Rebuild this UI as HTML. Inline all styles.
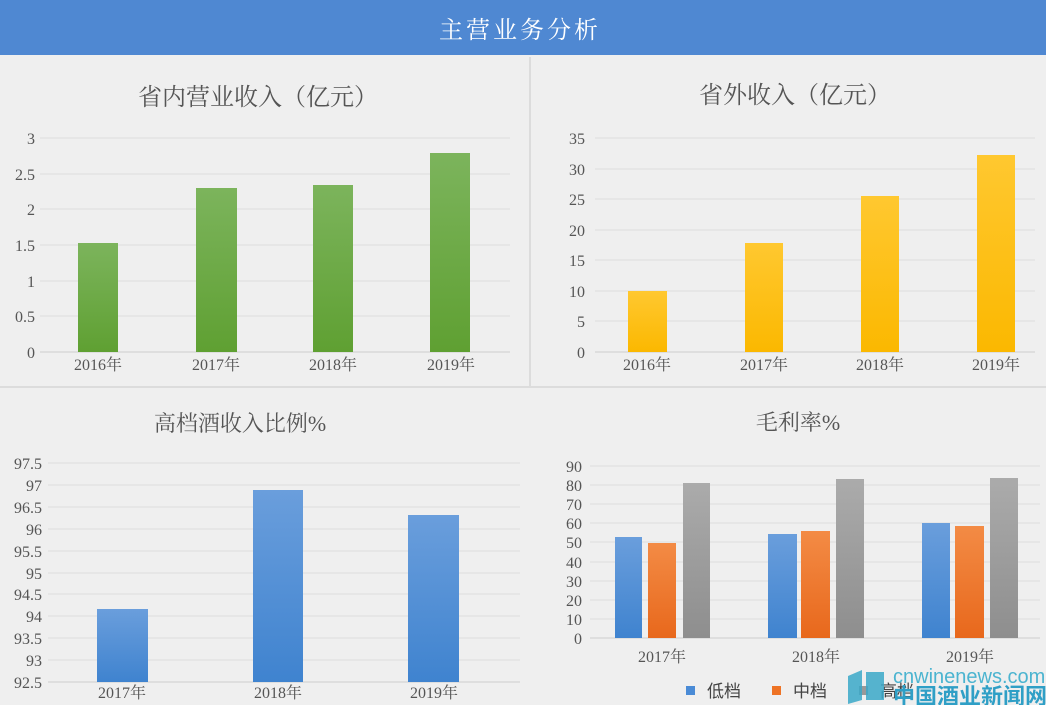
<!DOCTYPE html>
<html><head><meta charset="utf-8"><style>
body{margin:0;width:1046px;height:705px;overflow:hidden;background:#efefef;}
svg{display:block}
text{font-family:"Liberation Serif","Noto Serif CJK SC",serif;fill:#555;}
</style></head><body>
<svg width="1046" height="705" viewBox="0 0 1046 705">
<defs>
<linearGradient id="g" x1="0" y1="0" x2="0" y2="1"><stop offset="0" stop-color="#7cb45c"/><stop offset="1" stop-color="#5fa032"/></linearGradient>
<linearGradient id="y" x1="0" y1="0" x2="0" y2="1"><stop offset="0" stop-color="#ffc830"/><stop offset="1" stop-color="#fbb800"/></linearGradient>
<linearGradient id="b" x1="0" y1="0" x2="0" y2="1"><stop offset="0" stop-color="#6a9edc"/><stop offset="1" stop-color="#3f83cf"/></linearGradient>
<linearGradient id="o" x1="0" y1="0" x2="0" y2="1"><stop offset="0" stop-color="#f38b45"/><stop offset="1" stop-color="#e8681c"/></linearGradient>
<linearGradient id="s" x1="0" y1="0" x2="0" y2="1"><stop offset="0" stop-color="#ababab"/><stop offset="1" stop-color="#8e8e8e"/></linearGradient>
</defs>
<rect x="0" y="0" width="1046" height="55" fill="#4f88d2"/>
<text x="520" y="38" text-anchor="middle" font-size="24" style="fill:#fff" letter-spacing="3">主营业务分析</text>
<line x1="530" y1="57" x2="530" y2="386" stroke="#dcdcdc" stroke-width="2"/>
<line x1="0" y1="387" x2="1046" y2="387" stroke="#dcdcdc" stroke-width="2"/>

<!-- chart1 -->
<text x="258" y="105" text-anchor="middle" font-size="24">省内营业收入（亿元）</text>
<g stroke="#dcdcdc" stroke-width="1">
<line x1="40" y1="138" x2="510" y2="138"/><line x1="40" y1="174" x2="510" y2="174"/><line x1="40" y1="209" x2="510" y2="209"/><line x1="40" y1="245" x2="510" y2="245"/><line x1="40" y1="281" x2="510" y2="281"/><line x1="40" y1="316" x2="510" y2="316"/><line x1="40" y1="352" x2="510" y2="352" stroke="#ccc"/>
</g>
<g font-size="16" text-anchor="end">
<text x="35" y="144">3</text><text x="35" y="180">2.5</text><text x="35" y="215">2</text><text x="35" y="251">1.5</text><text x="35" y="287">1</text><text x="35" y="322">0.5</text><text x="35" y="358">0</text>
</g>
<rect x="78" y="243" width="40" height="109" fill="url(#g)"/>
<rect x="196" y="188" width="41" height="164" fill="url(#g)"/>
<rect x="313" y="185" width="40" height="167" fill="url(#g)"/>
<rect x="430" y="153" width="40" height="199" fill="url(#g)"/>
<g font-size="16" text-anchor="middle"><text x="98" y="370">2016年</text><text x="216" y="370">2017年</text><text x="333" y="370">2018年</text><text x="451" y="370">2019年</text></g>

<!-- chart2 -->
<text x="795" y="103" text-anchor="middle" font-size="24">省外收入（亿元）</text>
<g stroke="#dcdcdc" stroke-width="1">
<line x1="595" y1="138" x2="1035" y2="138"/><line x1="595" y1="169" x2="1035" y2="169"/><line x1="595" y1="199" x2="1035" y2="199"/><line x1="595" y1="230" x2="1035" y2="230"/><line x1="595" y1="260" x2="1035" y2="260"/><line x1="595" y1="291" x2="1035" y2="291"/><line x1="595" y1="321" x2="1035" y2="321"/><line x1="595" y1="352" x2="1035" y2="352" stroke="#ccc"/>
</g>
<g font-size="16" text-anchor="end">
<text x="585" y="144">35</text><text x="585" y="175">30</text><text x="585" y="205">25</text><text x="585" y="236">20</text><text x="585" y="266">15</text><text x="585" y="297">10</text><text x="585" y="327">5</text><text x="585" y="358">0</text>
</g>
<rect x="628" y="291" width="39" height="61" fill="url(#y)"/>
<rect x="745" y="243" width="38" height="109" fill="url(#y)"/>
<rect x="861" y="196" width="38" height="156" fill="url(#y)"/>
<rect x="977" y="155" width="38" height="197" fill="url(#y)"/>
<g font-size="16" text-anchor="middle"><text x="647" y="370">2016年</text><text x="764" y="370">2017年</text><text x="880" y="370">2018年</text><text x="996" y="370">2019年</text></g>

<!-- chart3 -->
<text x="240" y="431" text-anchor="middle" font-size="22">高档酒收入比例%</text>
<g stroke="#dcdcdc" stroke-width="1">
<line x1="48" y1="463" x2="520" y2="463"/><line x1="48" y1="485" x2="520" y2="485"/><line x1="48" y1="507" x2="520" y2="507"/><line x1="48" y1="529" x2="520" y2="529"/><line x1="48" y1="551" x2="520" y2="551"/><line x1="48" y1="573" x2="520" y2="573"/><line x1="48" y1="594" x2="520" y2="594"/><line x1="48" y1="616" x2="520" y2="616"/><line x1="48" y1="638" x2="520" y2="638"/><line x1="48" y1="660" x2="520" y2="660"/><line x1="48" y1="682" x2="520" y2="682" stroke="#ccc"/>
</g>
<g font-size="16" text-anchor="end">
<text x="42" y="469">97.5</text><text x="42" y="491">97</text><text x="42" y="513">96.5</text><text x="42" y="535">96</text><text x="42" y="557">95.5</text><text x="42" y="579">95</text><text x="42" y="600">94.5</text><text x="42" y="622">94</text><text x="42" y="644">93.5</text><text x="42" y="666">93</text><text x="42" y="688">92.5</text>
</g>
<rect x="97" y="609" width="51" height="73" fill="url(#b)"/>
<rect x="253" y="490" width="50" height="192" fill="url(#b)"/>
<rect x="408" y="515" width="51" height="167" fill="url(#b)"/>
<g font-size="16" text-anchor="middle"><text x="122" y="698">2017年</text><text x="278" y="698">2018年</text><text x="434" y="698">2019年</text></g>

<!-- chart4 -->
<text x="798" y="430" text-anchor="middle" font-size="22">毛利率%</text>
<g stroke="#dcdcdc" stroke-width="1">
<line x1="590" y1="466" x2="1040" y2="466"/><line x1="590" y1="485" x2="1040" y2="485"/><line x1="590" y1="504" x2="1040" y2="504"/><line x1="590" y1="523" x2="1040" y2="523"/><line x1="590" y1="542" x2="1040" y2="542"/><line x1="590" y1="562" x2="1040" y2="562"/><line x1="590" y1="581" x2="1040" y2="581"/><line x1="590" y1="600" x2="1040" y2="600"/><line x1="590" y1="619" x2="1040" y2="619"/><line x1="590" y1="638" x2="1040" y2="638" stroke="#ccc"/>
</g>
<g font-size="16" text-anchor="end">
<text x="582" y="472">90</text><text x="582" y="491">80</text><text x="582" y="510">70</text><text x="582" y="529">60</text><text x="582" y="548">50</text><text x="582" y="568">40</text><text x="582" y="587">30</text><text x="582" y="606">20</text><text x="582" y="625">10</text><text x="582" y="644">0</text>
</g>
<rect x="615" y="537" width="27" height="101" fill="url(#b)"/>
<rect x="648" y="543" width="28" height="95" fill="url(#o)"/>
<rect x="683" y="483" width="27" height="155" fill="url(#s)"/>
<rect x="768" y="534" width="29" height="104" fill="url(#b)"/>
<rect x="801" y="531" width="29" height="107" fill="url(#o)"/>
<rect x="836" y="479" width="28" height="159" fill="url(#s)"/>
<rect x="922" y="523" width="28" height="115" fill="url(#b)"/>
<rect x="955" y="526" width="29" height="112" fill="url(#o)"/>
<rect x="990" y="478" width="28" height="160" fill="url(#s)"/>
<g font-size="16" text-anchor="middle"><text x="662" y="662">2017年</text><text x="816" y="662">2018年</text><text x="970" y="662">2019年</text></g>
<rect x="686" y="686" width="9" height="9" fill="#4a8bd6"/>
<text x="707" y="697" font-size="17" style="fill:#444;font-family:'Noto Sans CJK SC',sans-serif">低档</text>
<rect x="772" y="686" width="9" height="9" fill="#ee7325"/>
<text x="793" y="697" font-size="17" style="fill:#444;font-family:'Noto Sans CJK SC',sans-serif">中档</text>
<rect x="859" y="686" width="9" height="9" fill="#999"/>
<text x="880" y="697" font-size="17" style="fill:#444;font-family:'Noto Sans CJK SC',sans-serif">高档</text>
<!-- watermark -->
<path d="M848 676 l14 -6 v30 l-14 4z M866 672 h18 v28 h-18z" fill="#3aa8c8" opacity="0.85"/>
<text x="893" y="683" font-size="20" style="fill:#4bb4d0;font-family:'Liberation Sans',sans-serif">cnwinenews.com</text>
<text x="893" y="704" font-size="22" font-weight="bold" style="fill:#2f9fc6;font-family:'Noto Sans CJK SC',sans-serif">中国酒业新闻网</text>
</svg>
</body></html>
